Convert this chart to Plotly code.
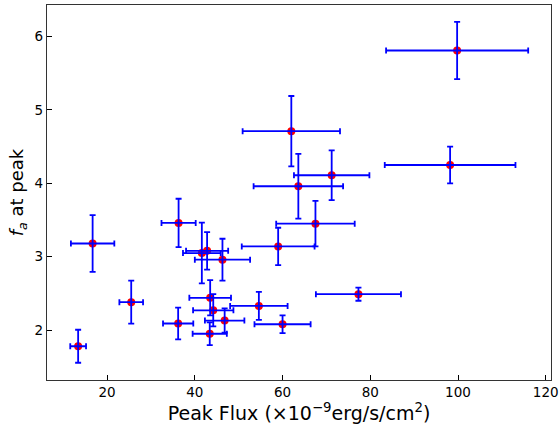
import plotly.graph_objects as go

# peak flux (x1e-9 erg/s/cm^2) and its error
peak_flux = [13.4, 16.7, 25.5, 36.3, 36.2, 41.6, 42.8, 46.3, 43.5, 44.2, 43.4,
             46.8, 54.6, 59.0, 60.0, 62.0, 63.6, 67.5, 71.2, 77.3, 98.2, 99.8]
flux_err = [1.8, 4.95, 2.7, 3.9, 3.45, 4.3, 4.8, 6.3, 4.75, 4.6, 3.9,
            4.5, 6.55, 8.3, 6.4, 11.1, 10.2, 8.95, 8.6, 9.7, 14.9, 16.2]

# f_a at peak and its error
fa_peak = [1.78, 3.18, 2.38, 3.46, 2.09, 3.05, 3.08, 2.96, 2.44, 2.27, 1.95,
           2.13, 2.33, 3.14, 2.08, 4.71, 3.96, 3.45, 4.11, 2.49, 4.25, 5.81]
fa_err = [0.225, 0.386, 0.293, 0.33, 0.216, 0.414, 0.256, 0.285, 0.24, 0.22, 0.155,
          0.166, 0.19, 0.255, 0.12, 0.48, 0.44, 0.31, 0.34, 0.09, 0.25, 0.39]

x_ticks = [20, 40, 60, 80, 100, 120]
y_ticks = [2, 3, 4, 5, 6]

blue = "#0000ff"
fig = go.Figure()

# red markers underneath
fig.add_trace(go.Scatter(
    x=peak_flux, y=fa_peak, mode="markers",
    marker={"color": "#ff0000", "size": 8},
    showlegend=False, hoverinfo="skip",
))

# blue error bars drawn on top of the markers
fig.add_trace(go.Scatter(
    x=peak_flux, y=fa_peak, mode="markers",
    marker={"color": "rgba(0,0,0,0)", "size": 8},
    error_x={"type": "data", "array": flux_err, "color": blue, "thickness": 1.8, "width": 3},
    error_y={"type": "data", "array": fa_err, "color": blue, "thickness": 1.8, "width": 3},
    showlegend=False,
))

axis_style = {
    "showgrid": False, "zeroline": False, "automargin": False,
    "showline": True, "linecolor": "#333333", "linewidth": 1.2, "mirror": True,
    "ticks": "inside", "ticklen": 5, "tickwidth": 1, "tickcolor": "#000000",
    "tickfont": {"size": 13.5, "color": "#000000"},
}

fig.update_layout(
    width=559, height=429, autosize=False,
    margin={"l": 47, "r": 8, "t": 5, "b": 49, "pad": 0},
    paper_bgcolor="white", plot_bgcolor="white",
    font={"family": "DejaVu Sans", "color": "#000000"},
    xaxis={
        **axis_style,
        "range": [6.3, 121.2], "tickvals": x_ticks,
        "title": {"text": "Peak Flux (×10<sup>−9</sup>erg/s/cm<sup>2</sup>)",
                  "font": {"size": 19}, "standoff": 6},
    },
    yaxis={
        **axis_style,
        "range": [1.32, 6.43], "tickvals": y_ticks,
        "title": {"text": "<i>f<sub>a</sub></i> at peak", "font": {"size": 18}, "standoff": 6},
    },
)

# browser default body margin would shift the figure by 8px
fig.write_html("out.html", config={"displayModeBar": False},
               post_script="document.body.style.margin='0';")
